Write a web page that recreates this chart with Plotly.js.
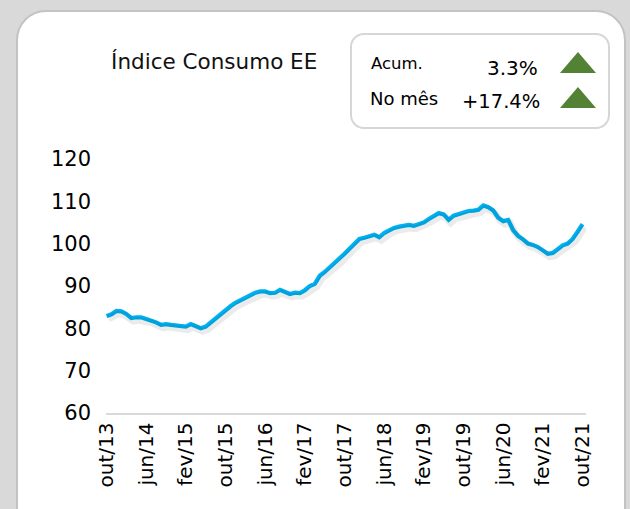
<!DOCTYPE html>
<html>
<head>
<meta charset="utf-8">
<script src="https://cdn.plot.ly/plotly-3.0.1.min.js"></script>
<style>
html,body{margin:0;padding:0;width:630px;height:509px;overflow:hidden;background:#d9d9d9;}
#outer{position:absolute;left:16px;top:10px;width:606px;height:530px;background:#fff;border:2px solid #c3c3c3;border-radius:30px;}
#inset{position:absolute;left:350px;top:33px;width:256px;height:92px;background:#fff;border:2px solid #d6d6d6;border-radius:14px;}
#chart{position:absolute;left:0;top:0;width:630px;height:509px;}
</style>
</head>
<body>
<div id="outer"></div>
<div id="inset"></div>
<div id="chart"></div>
<script>
const months = ["jan","fev","mar","abr","mai","jun","jul","ago","set","out","nov","dez"];
// monthly index values, out/13 .. out/21
const indexValues = [
 82.9, 83.3, 84.1, 84.0, 83.4, 82.4, 82.6, 82.6, 82.2, 81.9,
 81.4, 80.8, 81.0, 80.8, 80.6, 80.4, 80.4, 81.0, 80.4, 80.0,
 80.4, 81.4, 82.5, 83.4, 84.3, 85.2, 86.0, 86.6, 87.2, 87.8,
 88.4, 88.7, 88.7, 88.3, 88.4, 89.1, 88.5, 88.1, 88.4, 88.3,
 89.0, 90.0, 90.5, 92.4, 93.3, 94.3, 95.3, 96.3, 97.6, 98.8,
 100.0, 101.1, 101.4, 101.7, 102.1, 101.5, 102.5, 103.1, 103.7, 104.0,
 104.3, 104.4, 104.2, 104.6, 105.0, 105.8, 106.5, 107.2, 106.9, 105.6,
 106.6, 107.0, 107.4, 107.7, 107.8, 108.0, 109.0, 108.6, 107.8, 106.1,
 105.3, 105.6, 103.2, 101.8, 101.0, 100.0, 99.7, 99.2, 98.4, 97.6,
 97.8, 98.7, 99.6, 100.0, 101.1, 102.8, 104.6
];
const startMonth = 9, startYear = 13; // out/13
const monthLabels = indexValues.map((v,i)=>{
  const m = (startMonth + i) % 12;
  const y = startYear + Math.floor((startMonth + i)/12);
  return months[m] + "/" + y;
});
const tickIdx = [0,8,16,24,32,40,48,56,64,72,80,88,96];
const tickLabels = tickIdx.map(i=>monthLabels[i]);
const xIdx = indexValues.map((v,i)=>i);
const yTicks = [60,70,80,90,100,110,120];

const shadow = {
  x: xIdx, y: indexValues, type:'scatter', mode:'lines',
  xaxis:'x2', yaxis:'y2', hoverinfo:'skip',
  line:{color:'rgba(0,0,0,0.08)', width:7, shape:'linear'}
};
const main = {
  x: xIdx, y: indexValues, type:'scatter', mode:'lines',
  line:{color:'#00B0F0', width:4.2, shape:'linear'}
};

const font = "'DejaVu Sans', sans-serif";
const layout = {
  width:630, height:509,
  margin:{l:106, r:44, t:150, b:96},
  paper_bgcolor:'rgba(0,0,0,0)', plot_bgcolor:'rgba(0,0,0,0)',
  showlegend:false,
  font:{family:font, color:'#000'},
  title:{text:'Índice Consumo EE', x:0.340, xanchor:'center', xref:'container',
         y:0.880, yanchor:'middle', yref:'container', font:{size:21.5, color:'#111', family:font}},
  xaxis:{range:[-0.1,96.7], tickvals:tickIdx, ticktext:tickLabels, tickangle:-90,
         showgrid:false, zeroline:false, showline:true, linecolor:'#d9d9d9', linewidth:1.5,
         ticks:'', tickfont:{size:20, color:'#000'}, fixedrange:true},
  yaxis:{range:[60,122.1], tickvals:yTicks, showgrid:false, zeroline:false, showline:false,
         ticks:'', ticklabelstandoff:14, tickfont:{size:21, color:'#000'}, fixedrange:true},
  xaxis2:{range:[-0.5,96.3], overlaying:'x', visible:false},
  yaxis2:{range:[60.7,122.8], overlaying:'y', visible:false},
  shapes:[
    {type:'path', xref:'paper', yref:'paper', path:'M0.9458,1.2928 L1.0208,1.2928 L0.9833,1.3726 Z', fillcolor:'#548235', line:{width:0}},
    {type:'path', xref:'paper', yref:'paper', path:'M0.9458,1.1597 L1.0208,1.1597 L0.9833,1.2395 Z', fillcolor:'#548235', line:{width:0}}
  ],
  annotations:[
    {text:'Acum.', xref:'paper', yref:'paper', x:0.548, y:1.327, xanchor:'left', yanchor:'middle', showarrow:false, font:{size:16.5, color:'#000'}},
    {text:'3.3%', xref:'paper', yref:'paper', x:0.904, y:1.310, xanchor:'right', yanchor:'middle', showarrow:false, font:{size:20, color:'#000'}},
    {text:'No mês', xref:'paper', yref:'paper', x:0.546, y:1.195, xanchor:'left', yanchor:'middle', showarrow:false, font:{size:18, color:'#000'}},
    {text:'+17.4%', xref:'paper', yref:'paper', x:0.908, y:1.185, xanchor:'right', yanchor:'middle', showarrow:false, font:{size:19.5, color:'#000'}}
  ]
};
Plotly.newPlot('chart', [shadow, main], layout, {displayModeBar:false, staticPlot:true});
</script>
</body>
</html>
